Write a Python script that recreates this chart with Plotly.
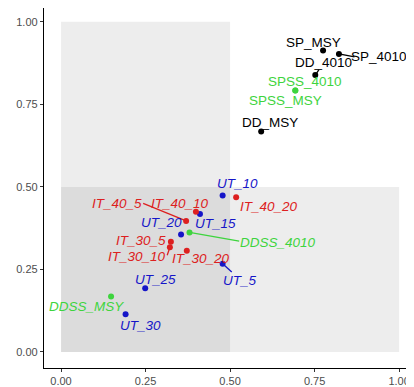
import plotly.graph_objects as go

# Data
names = ["SP_MSY", "SP_4010", "DD_4010", "SPSS_4010", "SPSS_MSY", "DD_MSY",
         "UT_10", "IT_40_20", "IT_40_10", "UT_15", "IT_40_5", "UT_20",
         "DDSS_4010", "IT_30_5", "IT_30_10", "IT_30_20", "UT_5", "UT_25",
         "DDSS_MSY", "UT_30"]
x_vals = [0.775, 0.822, 0.752, 0.693, 0.693, 0.592,
          0.478, 0.518, 0.399, 0.411, 0.370, 0.355,
          0.380, 0.325, 0.322, 0.372, 0.478, 0.249,
          0.148, 0.191]
y_vals = [0.913, 0.903, 0.839, 0.792, 0.792, 0.668,
          0.474, 0.469, 0.425, 0.418, 0.397, 0.356,
          0.362, 0.334, 0.317, 0.307, 0.267, 0.193,
          0.168, 0.114]
groups = ["SP", "SP", "SP", "SPSS", "SPSS", "SP",
          "UT", "IT", "IT", "UT", "IT", "UT",
          "DDSS", "IT", "IT", "IT", "UT", "UT",
          "DDSS", "UT"]
# label placement (repelled text positions)
label_x = [0.746, 0.939, 0.776, 0.722, 0.663, 0.618,
           0.521, 0.615, 0.352, 0.456, 0.167, 0.298,
           0.641, 0.236, 0.224, 0.414, 0.528, 0.278,
           0.074, 0.234]
label_y = [0.939, 0.894, 0.876, 0.818, 0.762, 0.694,
           0.509, 0.442, 0.451, 0.388, 0.451, 0.392,
           0.332, 0.337, 0.289, 0.284, 0.218, 0.221,
           0.137, 0.080]
# segment end (label edge) for labels with leader lines
seg_names = ["SP_4010", "DD_4010", "IT_40_5", "DDSS_4010", "IT_30_10", "UT_5"]
seg_end_x = [0.868, 0.763, 0.243, 0.527, 0.314, 0.505]
seg_end_y = [0.894, 0.855, 0.450, 0.336, 0.293, 0.242]

# quadrant backgrounds
rect_x0 = [0.0, 0.0]
rect_x1 = [0.5, 1.0]
rect_y0 = [0.0, 0.0]
rect_y1 = [1.0, 0.5]

x_ticks = [0.0, 0.25, 0.5, 0.75, 1.0]
y_ticks = [0.0, 0.25, 0.5, 0.75, 1.0]
tick_text = ["0.00", "0.25", "0.50", "0.75", "1.00"]

colors = {"SP": "#000000", "SPSS": "#3ED43E", "DDSS": "#3ED43E",
          "UT": "#1515C8", "IT": "#DD2020"}
italic = {"SP": False, "SPSS": False, "DDSS": True, "UT": True, "IT": True}

fig = go.Figure()

for x0, x1, y0, y1 in zip(rect_x0, rect_x1, rect_y0, rect_y1):
    fig.add_shape(type="rect", x0=x0, x1=x1, y0=y0, y1=y1,
                  fillcolor="rgba(0,0,0,0.072)", line_width=0, layer="below")

# leader segments
for n, ex, ey in zip(seg_names, seg_end_x, seg_end_y):
    i = names.index(n)
    fig.add_trace(go.Scatter(x=[x_vals[i], ex], y=[y_vals[i], ey], mode="lines",
                             line=dict(color=colors[groups[i]], width=1.3),
                             showlegend=False, hoverinfo="skip"))

for g in ["SP", "SPSS", "DDSS", "UT", "IT"]:
    idx = [i for i, gg in enumerate(groups) if gg == g]
    fig.add_trace(go.Scatter(x=[x_vals[i] for i in idx], y=[y_vals[i] for i in idx],
                             mode="markers", marker=dict(color=colors[g], size=6),
                             showlegend=False, name=g))

for i, n in enumerate(names):
    g = groups[i]
    txt = f"<i>{n}</i>" if italic[g] else n
    fig.add_annotation(x=label_x[i], y=label_y[i], text=txt, showarrow=False,
                       font=dict(family="Liberation Sans, Arial", size=13.5, color=colors[g]))

axis_common = dict(showgrid=False, zeroline=False, showline=True, linecolor="black",
                   linewidth=1.3, ticks="outside", ticklen=3, tickcolor="#333333",
                   tickfont=dict(family="Liberation Sans, Arial", size=11, color="#4D4D4D"))
fig.update_xaxes(range=[-0.0503, 1.044], tickvals=x_ticks, ticktext=tick_text, **axis_common)
fig.update_yaxes(range=[-0.0485, 1.042], tickvals=y_ticks, ticktext=tick_text, **axis_common)

fig.update_layout(width=406, height=379, margin=dict(l=36, r=0, t=0, b=19, autoexpand=False),
                  plot_bgcolor="white", paper_bgcolor="white")

fig.write_html("out.html")
